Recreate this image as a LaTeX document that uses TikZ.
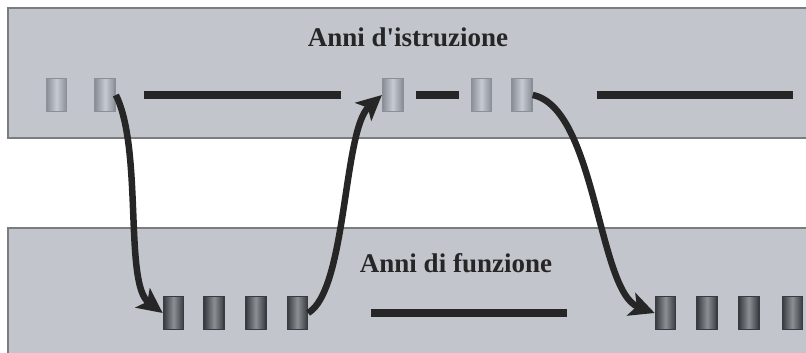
\documentclass[tikz,border=0pt]{standalone}
\usepackage{fontspec}
\setmainfont{Liberation Serif}
\usetikzlibrary{positioning,arrows.meta}

\definecolor{band}{HTML}{C2C5CC}
\definecolor{bandline}{HTML}{7A7C80}
\definecolor{ink}{HTML}{262626}
\definecolor{litedge}{HTML}{8A8F98}
\definecolor{litmid}{HTML}{C6CAD1}
\definecolor{drkedge}{HTML}{383B3F}
\definecolor{drkmid}{HTML}{8C9095}

\tikzset{
  year/.style = {rectangle, minimum width=20pt, minimum height=33pt,
    inner sep=0pt, line width=1.6pt},
  school/.style = {year, draw=litedge, left color=litedge, right color=litedge,
    middle color=litmid},
  work/.style = {year, draw=drkedge, left color=drkedge, right color=drkedge,
    middle color=drkmid},
  bar/.style = {draw=ink, line width=8pt},
  flow/.style = {draw=ink, line width=6.5pt,
    -{Stealth[length=25pt,width=24pt,inset=6pt]}},
  title/.style = {font=\fontsize{27}{32}\selectfont\bfseries, text=ink,
    anchor=base, inner sep=0pt}
}

\begin{document}
\begin{tikzpicture}[x=1pt, y=-1pt]
  \useasboundingbox (0,0) rectangle (806,353);
  \clip (0,0) rectangle (806,353);

  \fill[band] (8,8) rectangle (812,138);
  \draw[bandline, line width=1.2pt] (812,8) -- (8,8) -- (8,138) -- (812,138);
  \fill[band] (8,228) rectangle (812,360);
  \draw[bandline, line width=1.2pt] (812,228) -- (8,228) -- (8,360);

  \node[title] (t1) at (408,47) {Anni d\textquotesingle istruzione};
  \node[title] (t2) at (456,272) {Anni di funzione};

  \node[school] (a1) at (56.5,95) {};
  \node[school, right=27pt of a1] (a2) {};
  \node[school, right=266pt of a2] (a3) {};
  \node[school, right=67pt of a3] (a4) {};
  \node[school, right=19pt of a4] (a5) {};

  \node[work] (b1) at (173.5,313) {};
  \node[work, right=19pt of b1] (b2) {};
  \node[work, right=20pt of b2] (b3) {};
  \node[work, right=20pt of b3] (b4) {};

  \node[work] (c1) at (665.5,313) {};
  \node[work, right=20pt of c1] (c2) {};
  \node[work, right=20pt of c2] (c3) {};
  \node[work, right=22pt of c3] (c4) {};

  \coordinate (e1) at (793,95);

  \draw[bar] ([xshift=28pt]a2.east) -- ([xshift=-41pt]a3.west);
  \draw[bar] ([xshift=12pt]a3.east) -- ([xshift=-12pt]a4.west);
  \draw[bar] ([xshift=64pt]a5.east) -- (e1);
  \draw[bar] ([xshift=63pt]b4.east) -- ([xshift=-88pt]c1.west);

  \draw[flow] (a2.east) .. controls (143,150) and (124,284) .. (b1.west);
  \draw[flow] (b4.east) .. controls (347,290) and (343,130) .. (a3.west);
  \draw[flow] (a5.east) .. controls (596,108) and (598,292) .. (c1.west);
\end{tikzpicture}
\end{document}
